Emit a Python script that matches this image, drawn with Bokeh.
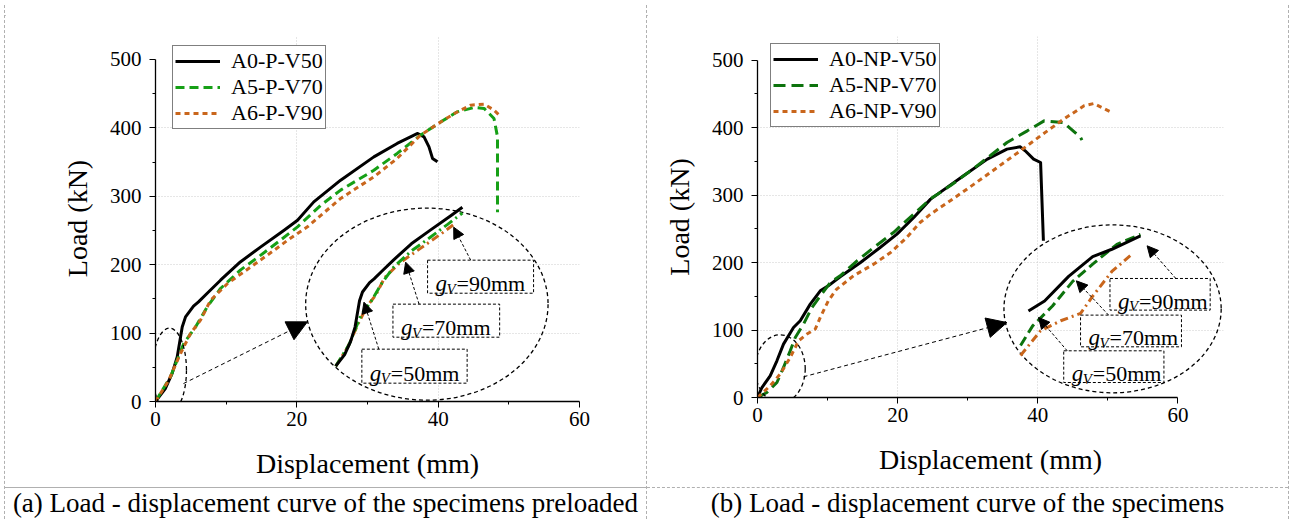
import numpy as np
from bokeh.plotting import figure
from bokeh.models import (Range1d, FixedTicker, Legend, LegendItem, Arrow,
                          NormalHead, BoxAnnotation, Label, Div)
from bokeh.layouts import row, column
from bokeh.embed import file_html
from bokeh.resources import INLINE

# ---------------- texts / categories ----------------
SERIES_A = ["A0-P-V50", "A5-P-V70", "A6-P-V90"]
SERIES_B = ["A0-NP-V50", "A5-NP-V70", "A6-NP-V90"]
GV_TEXTS = ["=90mm", "=70mm", "=50mm"]
X_TICKS = [0, 20, 40, 60]
Y_TICKS = [0, 100, 200, 300, 400, 500]
X_LABEL = "Displacement (mm)"
Y_LABEL = "Load (kN)"
CAPTION_A = "(a) Load - displacement curve of the specimens preloaded"
CAPTION_B = "(b) Load - displacement curve of the specimens"

# ---------------- data: (a) preloaded ----------------
a0p_x = [0, 1.42, 2.37, 3.07, 3.78, 4.25, 5.38, 6.09, 7.32, 9.2, 12.0, 14.9, 18.2, 20.1,
         22.4, 26.2, 30.9, 34.2, 37.1, 38.0, 38.7, 39.2, 39.9]
a0p_y = [0, 19.4, 41.4, 65.2, 109, 123.7, 139.3, 145.6, 158.3, 177.3, 204, 226, 250.4, 265,
         291.8, 323.5, 357.6, 377.2, 391.8, 386.8, 372.2, 355.3, 350.3]
a5p_x = [0, 2.12, 4.0, 5.67, 7.32, 9.2, 12.0, 14.9, 17.7, 20.1, 23.4, 26.2, 30.9, 34.2,
         37.5, 40.4, 42.7, 45.1, 46.5, 47.9, 48.4, 48.4]
a5p_y = [0, 36, 84.8, 109, 138.3, 165.2, 192, 214, 236, 255.3, 287, 309, 338, 362.6,
         389.3, 408.8, 423.4, 429.8, 428.4, 413.7, 386.8, 276.8]
a6p_x = [0, 1.88, 3.54, 4.96, 6.37, 7.79, 10.2, 13.5, 16.8, 18.7, 21.5, 26.2, 30.9, 34.2,
         37.5, 40.4, 42.3, 44.6, 46.5, 47.9, 48.9]
a6p_y = [0, 31.1, 70.2, 99.4, 118.9, 148, 172.5, 196.8, 221.2, 235.8, 255.3, 296.8, 328.4,
         355.3, 389.3, 408.8, 421, 433.2, 434.6, 425.9, 416]

# ---------------- data: (b) not preloaded ----------------
a0np_x = [0, 0.63, 1.81, 2.77, 3.71, 5.14, 6.1, 7.53, 8.96, 10.1, 11.8, 14.7, 17.5, 19.9,
          22.3, 24.7, 29.4, 32.8, 35.6, 37.5, 38.2, 39.4, 40.4, 40.8]
a0np_y = [0, 14.8, 32.2, 54.4, 79.1, 103.7, 113.7, 138.4, 158.1, 165.5, 178.9, 200.1, 222.3,
          242.1, 266.7, 294, 328.5, 353.3, 368.1, 371.5, 365.6, 353.3, 348.3, 232.2]
a5np_x = [0, 1.34, 2.77, 3.71, 4.67, 5.39, 6.57, 7.77, 8.96, 10.4, 11.8, 14.2, 16.6, 19.4,
          22.3, 24.7, 27.5, 30.4, 33.2, 35.6, 38.5, 40.9, 43.7, 46.1, 46.3]
a5np_y = [0, 7.4, 22.2, 44.5, 69.2, 88.9, 108.8, 133.4, 150.7, 170.4, 180.4, 202.6, 222.3,
          244.5, 271.8, 294.5, 313.7, 336, 358.2, 377.9, 395.2, 410, 407.5, 385.3, 381.4]
a6np_x = [0, 1.81, 3.24, 4.67, 5.86, 7.06, 8.24, 8.96, 10.1, 11.3, 13.7, 16.6, 19.0, 21.3,
          23.2, 24.7, 27.5, 30.9, 34.2, 37.5, 40.4, 43.7, 46.6, 48.0, 50.6]
a6np_y = [0, 17.3, 34.7, 59.3, 84, 94, 101.4, 118.6, 143.3, 160.6, 180.4, 197.7, 214.9,
          237.1, 259.3, 271.8, 291.5, 316.2, 340.8, 365.6, 387.8, 412.6, 432.3, 435.7, 422.3]

FONT = "Liberation Serif"
GREEN_A = "#16a016"
GREEN_B = "#0d730d"
ORANGE = "#c9661c"
BORDER = "#b0b0b0"


def style_axes(p, xbounds):
    p.xaxis.ticker = FixedTicker(ticks=X_TICKS, minor_ticks=[10, 30, 50])
    p.yaxis.ticker = FixedTicker(ticks=Y_TICKS, minor_ticks=[50, 150, 250, 350, 450])
    p.xgrid.ticker = FixedTicker(ticks=[20, 40])
    p.ygrid.ticker = FixedTicker(ticks=[100, 200, 300, 400])
    for g in (p.xgrid, p.ygrid):
        g.grid_line_color = "#cccccc"
        g.grid_line_dash = "1 2"
        g.grid_line_width = 1
    p.xaxis.axis_label = X_LABEL
    p.yaxis.axis_label = Y_LABEL
    for ax in (p.xaxis, p.yaxis):
        ax.axis_label_text_font = FONT
        ax.axis_label_text_font_size = "28px"
        ax.axis_label_text_font_style = "normal"
        ax.axis_label_text_color = "black"
        ax.major_label_text_font = FONT
        ax.major_label_text_font_size = "21px"
        ax.major_label_text_color = "black"
        ax.axis_line_color = "black"
        ax.axis_line_width = 1.3
        ax.major_tick_line_color = "black"
        ax.minor_tick_line_color = "black"
        ax.major_tick_out = 6
        ax.major_tick_in = 0
        ax.minor_tick_out = 3
        ax.minor_tick_in = 0
    p.xaxis.major_label_standoff = 4
    p.yaxis.major_label_standoff = 8
    p.xaxis.axis_label_standoff = 19
    p.yaxis.axis_label_standoff = 14
    p.xaxis.bounds = xbounds
    p.yaxis.bounds = (0, 500)
    p.outline_line_color = None


def gv_box(p, left, right, bottom, top, suffix):
    p.add_layout(BoxAnnotation(left=left, right=right, bottom=bottom, top=top,
                               fill_color="white", fill_alpha=1.0, line_color="black",
                               line_alpha=1.0, line_width=1, line_dash="3 2"))
    ymid = (bottom + top) / 2
    common = dict(x=left, y=ymid, text_font=FONT, text_color="black",
                  text_baseline="alphabetic", text_align="left")
    p.add_layout(Label(text="g", x_offset=8, y_offset=-7, text_font_size="23px",
                       text_font_style="italic", **common))
    p.add_layout(Label(text="V", x_offset=19, y_offset=-12, text_font_size="15px",
                       text_font_style="italic", **common))
    p.add_layout(Label(text=suffix, x_offset=29, y_offset=-7, text_font_size="22px",
                       **common))


def arrow(p, xs, ys, xe, ye, size, dash):
    p.add_layout(Arrow(end=NormalHead(size=size, fill_color="black", line_color="black",
                                      line_width=1),
                       x_start=xs, y_start=ys, x_end=xe, y_end=ye,
                       line_color="black", line_width=1, line_dash=dash))


def make_legend(p, renderers, names, loc):
    leg = Legend(items=[LegendItem(label=n, renderers=[r]) for n, r in zip(names, renderers)],
                 location=loc, label_text_font=FONT, label_text_font_size="22px",
                 label_text_color="black", glyph_width=45, glyph_height=20,
                 label_standoff=11, padding=2, spacing=0, margin=0,
                 border_line_color="black", border_line_width=1,
                 background_fill_color="white", background_fill_alpha=1.0)
    p.add_layout(leg)


# ---------------- panel (a) ----------------
pa = figure(width=641, height=482, x_range=Range1d(0, 60), y_range=Range1d(0, 535),
            output_backend="svg", toolbar_location=None,
            min_border_left=150, min_border_right=67, min_border_top=30, min_border_bottom=86,
            background_fill_color="white", border_fill_color="white")
style_axes(pa, (0, 60))
ra0 = pa.line(a0p_x, a0p_y, line_color="black", line_width=3, line_join="round")
ra5 = pa.line(a5p_x, a5p_y, line_color=GREEN_A, line_width=3, line_dash="9 5")
ra6 = pa.line(a6p_x, a6p_y, line_color=ORANGE, line_width=3, line_dash="5 4")

# zoom markers
pa.ellipse(x=[1.98], y=[45.8], width=[4.8], height=[122.8], fill_color=None,
           line_color="black", line_dash="4 3", line_width=1.3)
pa.ellipse(x=[38.4], y=[142.3], width=[34.3], height=[280.7], fill_color=None,
           line_color="black", line_dash="4 3", line_width=1.3)


def inset_a(xs, ys, xmax=20.5):
    xs = np.asarray(xs, float); ys = np.asarray(ys, float)
    m = xs <= xmax
    return 25.5 + 0.892 * xs[m], 51.6 + 0.877 * ys[m]


ix, iy = inset_a(a6p_x, a6p_y)
pa.line(ix, iy, line_color=ORANGE, line_width=3, line_dash="8 4 2 4")
ix, iy = inset_a(a5p_x, a5p_y)
pa.line(ix, iy, line_color=GREEN_A, line_width=3, line_dash="10 4 2 4")
ix, iy = inset_a(a0p_x, a0p_y)
pa.line(ix, iy, line_color="black", line_width=3, line_join="round")

arrow(pa, 3.96, 26.2, 21.5, 116.4, 20, "4 3")
gv_box(pa, 38.5, 53.5, 158.3, 206.6, GV_TEXTS[0])
gv_box(pa, 33.6, 48.7, 94.0, 142.3, GV_TEXTS[1])
gv_box(pa, 29.2, 44.1, 26.8, 76.5, GV_TEXTS[2])
arrow(pa, 44.6, 206.6, 42.2, 254.8, 11, "3 2")
arrow(pa, 37.3, 142.3, 35.4, 203.7, 11, "3 2")
arrow(pa, 31.6, 76.5, 29.5, 145.2, 11, "3 2")
make_legend(pa, [ra0, ra5, ra6], SERIES_A, (17, 272))

# ---------------- panel (b) ----------------
pb = figure(width=641, height=482, x_range=Range1d(0, 66.5), y_range=Range1d(0, 535),
            output_backend="svg", toolbar_location=None,
            min_border_left=110, min_border_right=65, min_border_top=31, min_border_bottom=90,
            background_fill_color="white", border_fill_color="white")
style_axes(pb, (0, 60))
rb0 = pb.line(a0np_x, a0np_y, line_color="black", line_width=3, line_join="round")
rb5 = pb.line(a5np_x, a5np_y, line_color=GREEN_B, line_width=3, line_dash="12 6")
rb6 = pb.line(a6np_x, a6np_y, line_color=ORANGE, line_width=3, line_dash="5 4")

pb.ellipse(x=[3.24], y=[42.5], width=[7.14], height=[100.8], fill_color=None,
           line_color="black", line_dash="4 3", line_width=1.3)
pb.ellipse(x=[50.67], y=[131.4], width=[31.0], height=[249.0], fill_color=None,
           line_color="black", line_dash="4 3", line_width=1.3)


def inset_b(xs, ys, xmin=4.5, xmax=12.3):
    xs = np.asarray(xs, float); ys = np.asarray(ys, float)
    m = (xs >= xmin) & (xs <= xmax)
    return 26.33 + 2.4 * xs[m], -25.6 + 1.482 * ys[m]


ix, iy = inset_b(a6np_x, a6np_y)
pb.line(ix, iy, line_color=ORANGE, line_width=3, line_dash="8 4 2 4")
ix, iy = inset_b(a5np_x, a5np_y)
pb.line(ix, iy, line_color=GREEN_B, line_width=3, line_dash="10 5")
ix, iy = inset_b(a0np_x, a0np_y)
pb.line(ix, iy, line_color="black", line_width=3, line_join="round")

arrow(pb, 6.57, 30.7, 35.6, 111.1, 20, "4 3")
gv_box(pb, 50.3, 64.6, 129.5, 176.4, GV_TEXTS[0])
gv_box(pb, 46.1, 60.5, 75.1, 122.1, GV_TEXTS[1])
gv_box(pb, 43.7, 58.0, 22.2, 69.2, GV_TEXTS[2])
arrow(pb, 59.7, 176.4, 55.6, 224.8, 11, "3 2")
arrow(pb, 50.1, 122.1, 45.5, 172.9, 11, "3 2")
arrow(pb, 44.2, 69.2, 40.1, 118.6, 11, "3 2")
make_legend(pb, [rb0, rb5, rb6], SERIES_B, (13, 270))


# ---------------- frame / captions ----------------
def vline(h):
    return Div(text=f'<div style="width:0;height:{h}px;border-left:1px dashed {BORDER}"></div>',
               width=1, height=h, margin=0)


def blank(w, h):
    return Div(text="", width=w, height=h, margin=0)


def caption(txt, w, solid):
    style = "solid" if solid else "dashed"
    html = (f'<div style="width:{w}px;height:31px;border-top:1px {style} {BORDER};'
            f'text-align:center;font-family:\'{FONT}\';font-size:27px;line-height:30px;'
            f'white-space:nowrap;color:black;overflow:hidden">{txt}</div>')
    return Div(text=html, width=w, height=32, margin=0)


top = Div(text=f'<div style="width:1285px;height:0;border-top:1px dashed {BORDER}"></div>',
          width=1285, height=1, margin=0)

layout = column(
    blank(1289, 4),
    row(blank(4, 1), top, spacing=0),
    row(blank(4, 514), vline(514),
        column(pa, caption(CAPTION_A, 641, True), spacing=0),
        vline(514),
        column(pb, caption(CAPTION_B, 641, False), spacing=0),
        vline(514), spacing=0),
    spacing=0)

open("out.html", "w").write(file_html(layout, INLINE))
